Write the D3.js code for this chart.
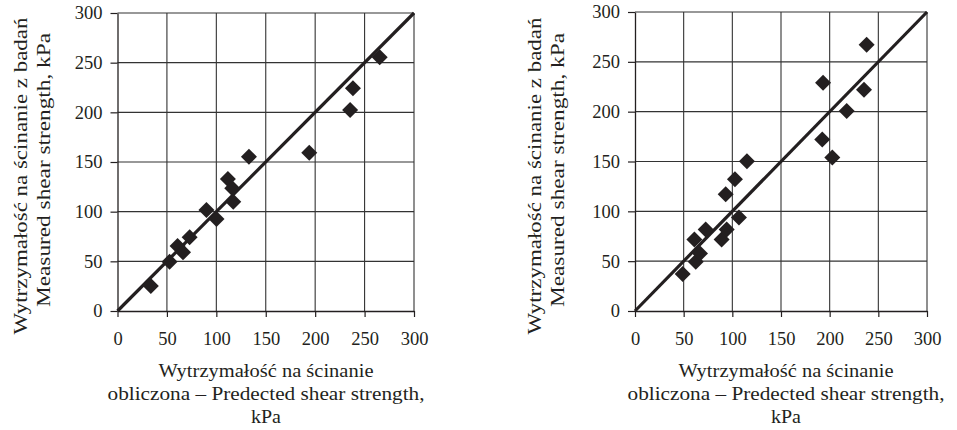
<!DOCTYPE html>
<html>
<head>
<meta charset="utf-8">
<script src="https://cdn.jsdelivr.net/npm/d3@7"></script>
</head>
<body style="margin:0">
<svg id="chart" width="957" height="430"></svg>
<script>
// ---- data ----
const tickValues = [0, 50, 100, 150, 200, 250, 300];
const leftPredicted = [33.7, 52.7, 60.8, 66.3, 73, 90, 100.2, 111.7, 116.1, 117.1, 133, 194, 235.4, 238.2, 265.3];
const leftMeasured  = [25.2, 49.6, 65.4, 59.1, 74.2, 101.7, 92.6, 132.9, 123.5, 110, 155.3, 159.4, 202.3, 224.2, 255.4];
const rightPredicted = [49, 62.4, 66.8, 61, 72.6, 89, 94.2, 106.8, 93.2, 102.7, 115, 192.4, 202.7, 193.2, 217.5, 235.3, 238];
const rightMeasured  = [37.1, 49.4, 57.8, 71.8, 81.8, 71.8, 81.8, 93.8, 117.2, 132.2, 150.3, 172, 154, 229, 200.6, 222, 267.1];
const xTitleLines = ["Wytrzymałość na ścinanie", "obliczona – Predected shear strength,", "kPa"];
const yTitleLines = ["Wytrzymałość na ścinanie z badań", "Measured shear strength, kPa"];

const svg = d3.select("#chart");
const ink = "#231f20";
const FONT = '"Liberation Serif", "Times New Roman", Times';
const FS = 18.5;
const xTitleLen = [215, 317, 30];
const yTitleLen = [317, 274];

const panels = [
  { x0: 117.5, x1: 414, y0: 311, y1: 13, px: leftPredicted, my: leftMeasured, yt: [91, 68], cx: 266 },
  { x0: 635, x1: 927, y0: 311, y1: 12, px: rightPredicted, my: rightMeasured, yt: [94, 71], cx: 786 }
];

function styleText(sel) {
  return sel.attr("font-family", FONT).style("font-family", FONT)
    .attr("font-size", FS).attr("fill", ink);
}

panels.forEach(p => {
  const x = d3.scaleLinear().domain([0, 300]).range([p.x0, p.x1]);
  const y = d3.scaleLinear().domain([0, 300]).range([p.y0, p.y1]);
  const g = svg.append("g");

  // gridlines
  g.append("g").selectAll("line").data(tickValues.filter(d => d > 0)).join("line")
    .attr("x1", d => x(d)).attr("x2", d => x(d))
    .attr("y1", y(0)).attr("y2", y(300))
    .attr("stroke", "#333").attr("stroke-width", 1.1);
  g.append("g").selectAll("line").data(tickValues.filter(d => d > 0)).join("line")
    .attr("x1", x(0)).attr("x2", x(300))
    .attr("y1", d => y(d)).attr("y2", d => y(d))
    .attr("stroke", "#333").attr("stroke-width", 1.1);

  // axes
  const xAxis = d3.axisBottom(x).tickValues(tickValues).tickSize(6).tickPadding(15).tickSizeOuter(0);
  const yAxis = d3.axisLeft(y).tickValues(tickValues).tickSize(7).tickPadding(8).tickSizeOuter(0);
  const gx = g.append("g").attr("transform", `translate(0,${y(0)})`).call(xAxis);
  const gy = g.append("g").attr("transform", `translate(${x(0)},0)`).call(yAxis);
  [gx, gy].forEach(a => {
    a.attr("font-family", null).attr("font-size", null);
    a.select(".domain").attr("stroke", ink).attr("stroke-width", 1.3);
    a.selectAll(".tick line").attr("stroke", ink).attr("stroke-width", 1.2);
    styleText(a.selectAll(".tick text"));
  });

  // 1:1 line
  g.append("line")
    .attr("x1", x(0)).attr("y1", y(0)).attr("x2", x(300)).attr("y2", y(300))
    .attr("stroke", ink).attr("stroke-width", 3.2);

  // points
  const sym = d3.symbol().type(d3.symbolSquare).size(128);
  g.append("g").selectAll("path").data(p.px.map((v, i) => [v, p.my[i]])).join("path")
    .attr("d", sym)
    .attr("transform", d => `translate(${x(d[0])},${y(d[1])}) rotate(45)`)
    .attr("fill", ink);

  // x title
  xTitleLines.forEach((t, i) => {
    styleText(g.append("text")).attr("text-anchor", "middle")
      .attr("x", p.cx).attr("y", 377 + i * 23)
      .attr("textLength", xTitleLen[i]).attr("lengthAdjust", "spacingAndGlyphs")
      .text(t);
  });

  // y title
  const cys = [176, 170];
  yTitleLines.forEach((t, i) => {
    styleText(g.append("text")).attr("text-anchor", "middle")
      .attr("transform", `translate(${x(0) - p.yt[i]},${cys[i]}) rotate(-90)`)
      .attr("textLength", yTitleLen[i]).attr("lengthAdjust", "spacingAndGlyphs")
      .text(t);
  });
});
</script>
</body>
</html>
